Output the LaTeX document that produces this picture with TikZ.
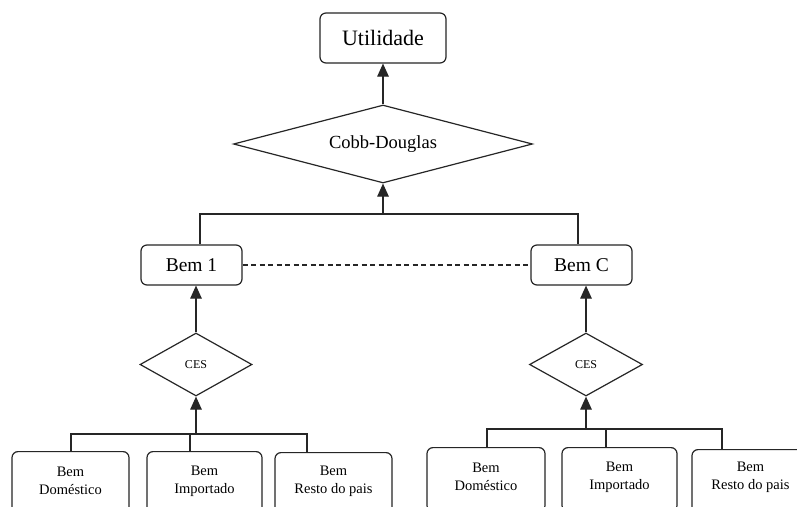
\documentclass[tikz,border=0pt]{standalone}
\usepackage{fontspec}
\setmainfont{Liberation Serif}
\usetikzlibrary{arrows.meta,shapes.geometric}
\tikzset{
  line/.style={draw=black!85, line width=1.2pt},
  arr/.style={line, -{Triangle[width=11.5pt,length=13pt]}},
  rbox/.style={line, rounded corners=6pt, inner sep=0pt},
  dia/.style={line, diamond, inner sep=0pt},
  leaf/.style={line, rounded corners=6pt, inner sep=0pt, minimum width=117pt, minimum height=64pt, anchor=north},
  leaftxt/.style={font=\fontsize{14.5}{18}\selectfont, align=center, inner sep=0pt},
}
\begin{document}
\begin{tikzpicture}[x=1pt,y=-1pt]
\useasboundingbox (0,0) rectangle (797,506);
\clip (0,0) rectangle (797,506);
\fill[white] (0,0) rectangle (797,506);
% top
\node[rbox, minimum width=126pt, minimum height=50pt, font=\fontsize{22}{26}\selectfont] (util) at (383,38) {Utilidade};
\node[dia, shape aspect=3.8, minimum width=299pt, minimum height=78pt, font=\fontsize{18.5}{22}\selectfont] (cd) at (383,144) {Cobb-Douglas};
\node[rbox, minimum width=101pt, minimum height=40pt, font=\fontsize{19.5}{23}\selectfont] (b1) at (191.5,265) {Bem 1};
\node[rbox, minimum width=101pt, minimum height=40pt, font=\fontsize{19.5}{23}\selectfont] (bc) at (581.5,265) {Bem C};
\node[dia, shape aspect=1.8, minimum width=112pt, minimum height=63pt, font=\fontsize{12}{14}\selectfont] (ces1) at (196,364.5) {CES};
\node[dia, shape aspect=1.8, minimum width=113pt, minimum height=63pt, font=\fontsize{12}{14}\selectfont] (ces2) at (586,364.5) {CES};
% leaves left
\node[leaf] (ld) at (70.5,451) {};
\node[leaf, minimum width=115pt] (li) at (204.5,451) {};
\node[leaf] (lr) at (333.5,452) {};
\node[leaftxt] (ldt) at ([yshift=-30pt]ld.north) {Bem\\Doméstico};
\node[leaftxt] (lit) at ([yshift=-30pt]li.north) {Bem\\Importado};
\node[leaftxt] (lrt) at ([yshift=-29pt]lr.north) {Bem\\Resto do pais};
% leaves right
\node[leaf, minimum width=118pt] (rd) at (486,447) {};
\node[leaf, minimum width=115pt] (ri) at (619.5,447) {};
\node[leaf] (rr) at (750.5,449) {};
\node[leaftxt] (rdt) at ([yshift=-30pt]rd.north) {Bem\\Doméstico};
\node[leaftxt] (rit) at ([yshift=-30pt]ri.north) {Bem\\Importado};
\node[leaftxt] (rrt) at ([yshift=-28pt]rr.north) {Bem\\Resto do pais};
% bar coordinates
\coordinate (tl) at (200,214);
\coordinate (tr) at (578,214);
\coordinate (l1) at (71,434);
\coordinate (l2) at (190,434);
\coordinate (l3) at (307,434);
\coordinate (r1) at (487,429);
\coordinate (r2) at (606,429);
\coordinate (r3) at (722,429);
% connectors
\draw[arr] (cd.north) -- (util.south);
\draw[line] (tl |- b1.north) -- (tl) -- (tr) -- (tr |- bc.north);
\draw[arr] (cd.south |- tl) -- (cd.south);
\draw[line, dash pattern=on 5pt off 3.5pt] (b1.east) -- (bc.west);
\draw[arr] (ces1.north) -- (ces1.north |- b1.south);
\draw[arr] (ces2.north) -- (ces2.north |- bc.south);
\draw[line] (l1 |- ld.north) -- (l1) -- (l3) -- (l3 |- lr.north);
\draw[line] (l2) -- (l2 |- li.north);
\draw[arr] (ces1.south |- l1) -- (ces1.south);
\draw[line] (r1 |- rd.north) -- (r1) -- (r3) -- (r3 |- rr.north);
\draw[line] (r2) -- (r2 |- ri.north);
\draw[arr] (ces2.south |- r1) -- (ces2.south);
\end{tikzpicture}
\end{document}
